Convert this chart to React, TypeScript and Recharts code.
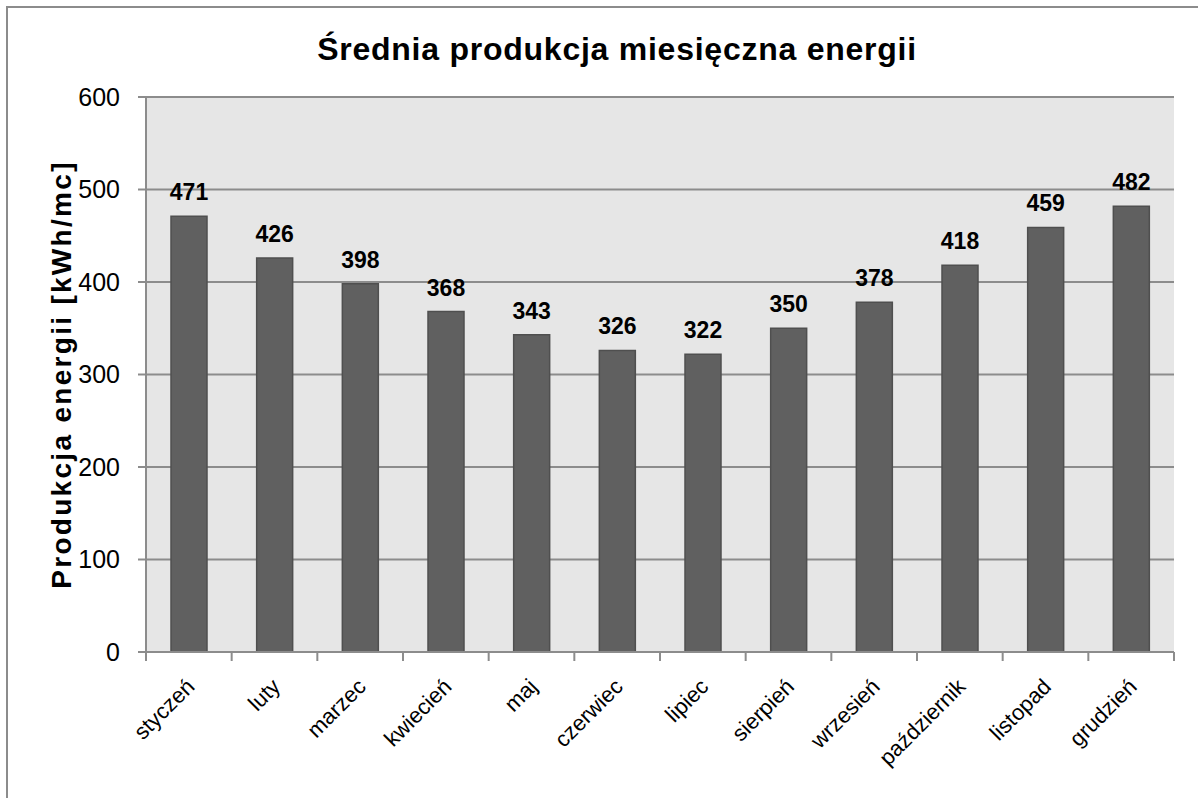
import { BarChart, Bar, XAxis, YAxis, CartesianGrid, LabelList } from 'recharts';

const months = [
  'styczeń', 'luty', 'marzec', 'kwiecień', 'maj', 'czerwiec',
  'lipiec', 'sierpień', 'wrzesień', 'październik', 'listopad', 'grudzień',
];
const production = [471, 426, 398, 368, 343, 326, 322, 350, 378, 418, 459, 482];
const yTicks = [0, 100, 200, 300, 400, 500, 600];

const data = months.map((month, i) => ({ month, value: production[i] }));

const FONT = '"Liberation Sans", Arial, sans-serif';
const AXIS = '#8c8c8c';
const BAR = '#606060';

const W = 1198;
const H = 798;
const PLOT_LEFT = 146;
const PLOT_RIGHT = 1174;
const STEP = (PLOT_RIGHT - PLOT_LEFT) / months.length;

// category labels rotated 45°, tick marks sit on category boundaries
function MonthTick(props: any) {
  const { x, y, payload, index } = props;
  const left = x - STEP / 2;
  const ax = x + 7;
  const ay = y + 28;
  return (
    <g>
      <line x1={left} y1={y - 8} x2={left} y2={y + 1} stroke={AXIS} strokeWidth={2} />
      {index === months.length - 1 && (
        <line x1={x + STEP / 2} y1={y - 8} x2={x + STEP / 2} y2={y + 1} stroke={AXIS} strokeWidth={2} />
      )}
      <text
        x={ax}
        y={ay}
        textAnchor="end"
        transform={`rotate(-45 ${ax} ${ay})`}
        fontFamily={FONT}
        fontSize={22}
        fill="#000"
      >
        {payload.value}
      </text>
    </g>
  );
}

export default function App() {
  return (
    <div style={{ position: 'absolute', left: 0, top: 0, width: W, height: H, overflow: 'hidden', background: '#fff' }}>
      <div
        style={{
          position: 'absolute', left: 6, top: 6, width: W + 20, height: H + 20,
          borderLeft: `2px solid ${AXIS}`, borderTop: `2px solid ${AXIS}`,
        }}
      />
      <div
        style={{
          position: 'absolute', left: 0, top: 31, width: 1234, textAlign: 'center',
          fontFamily: FONT, fontWeight: 'bold', fontSize: 32, letterSpacing: 0.75,
          color: '#000', whiteSpace: 'nowrap',
        }}
      >
        Średnia produkcja miesięczna energii
      </div>
      <div style={{ position: 'absolute', left: 0, top: 0 }}>
        <BarChart
          width={W}
          height={H}
          data={data}
          margin={{ top: 97, right: W - PLOT_RIGHT, bottom: 46, left: PLOT_LEFT - 60 }}
          barSize={36}
        >
          <CartesianGrid vertical={false} fill="#e6e6e6" stroke={AXIS} strokeWidth={2} />
          <XAxis
            dataKey="month"
            height={100}
            interval={0}
            stroke={AXIS}
            strokeWidth={2}
            tickLine={false}
            tick={<MonthTick />}
          />
          <YAxis
            width={60}
            domain={[0, 600]}
            ticks={yTicks}
            stroke={AXIS}
            strokeWidth={2}
            tickSize={8}
            tickMargin={18}
            tick={{ fill: '#000', fontSize: 25, fontFamily: FONT }}
            label={{
              value: 'Produkcja energii [kWh/mc]',
              angle: -90,
              position: 'insideLeft',
              offset: 0,
              dx: -25,
              style: {
                textAnchor: 'middle', fontFamily: FONT, fontWeight: 'bold',
                fontSize: 28, letterSpacing: 2.3, fill: '#000',
              },
            }}
          />
          <Bar dataKey="value" fill={BAR} stroke="#4f4f4f" strokeWidth={1.5} isAnimationActive={false}>
            <LabelList
              dataKey="value"
              position="top"
              offset={16}
              style={{ fontFamily: FONT, fontWeight: 'bold', fontSize: 23, fill: '#000' }}
            />
          </Bar>
        </BarChart>
      </div>
    </div>
  );
}
